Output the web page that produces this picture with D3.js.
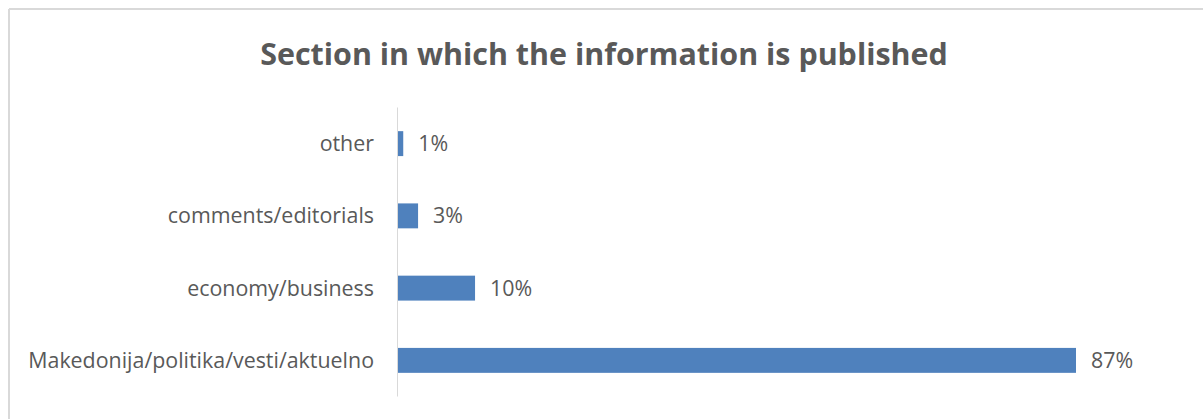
<!DOCTYPE html>
<html><head><meta charset="utf-8">
<script src="https://cdn.jsdelivr.net/npm/d3@7"></script>
<style>
html,body{margin:0;padding:0;background:#fff;overflow:hidden;}
svg{display:block;}
</style></head>
<body>
<script>
const categories = ["other","comments/editorials","economy/business","Makedonija/politika/vesti/aktuelno"];
const values = [0.8, 2.7, 10.0, 87.0];
const valueLabels = ["1%","3%","10%","87%"];
const title = "Section in which the information is published";

const W = 1203, H = 419;
const svg = d3.select("body").append("svg").attr("width", W).attr("height", H);
svg.append("rect").attr("width", W).attr("height", H).attr("fill", "#fff");
// frame
svg.append("line").attr("x1", 9).attr("x2", W).attr("y1", 9).attr("y2", 9).attr("stroke", "#d9d9d9").attr("stroke-width", 2);
svg.append("line").attr("x1", 9).attr("x2", 9).attr("y1", 9).attr("y2", H).attr("stroke", "#d9d9d9").attr("stroke-width", 2);

const font = "'Open Sans', 'Noto Sans', sans-serif";
const textColor = "#595959";

const x0 = 397;
const x = d3.scaleLinear().domain([0, 87]).range([x0, 1076]);
const y = d3.scaleBand().domain(categories).range([107.5, 396.5]).paddingInner(0.655).paddingOuter(0.3275);

// title
const t = svg.append("text").attr("x", 604).attr("y", 65).attr("text-anchor", "middle")
  .attr("font-family", font).attr("font-weight", "bold").attr("font-size", 28)
  .attr("fill", textColor).text(title);
const tw = t.node().getComputedTextLength();
t.attr("font-size", 28 * 688 / tw);

// axis line
svg.append("line").attr("x1", x0 + 0.5).attr("x2", x0 + 0.5).attr("y1", 107.5).attr("y2", 396.5)
  .attr("stroke", "#d9d9d9").attr("stroke-width", 1);

// bars
svg.selectAll("rect.bar").data(categories).join("rect").attr("class", "bar")
  .attr("x", x0 + 1).attr("y", d => y(d)).attr("height", y.bandwidth())
  .attr("width", (d, i) => x(values[i]) - x0 - 1).attr("fill", "#4f81bd");

// category labels
const cl = svg.selectAll("text.cat").data(categories).join("text").attr("class", "cat")
  .attr("x", 374).attr("y", d => y(d) + y.bandwidth() / 2).attr("dy", "0.35em")
  .attr("text-anchor", "end").attr("font-family", font).attr("font-size", 18)
  .attr("fill", textColor).text(d => d);
const lw = cl.nodes()[3].getComputedTextLength();
const fs = 18 * 346 / lw;
cl.attr("font-size", fs);

// value labels
svg.selectAll("text.val").data(categories).join("text").attr("class", "val")
  .attr("x", (d, i) => x(values[i]) + 15).attr("y", d => y(d) + y.bandwidth() / 2).attr("dy", "0.35em")
  .attr("font-family", font).attr("font-size", fs).attr("fill", textColor)
  .text((d, i) => valueLabels[i]);
</script>
</body></html>
